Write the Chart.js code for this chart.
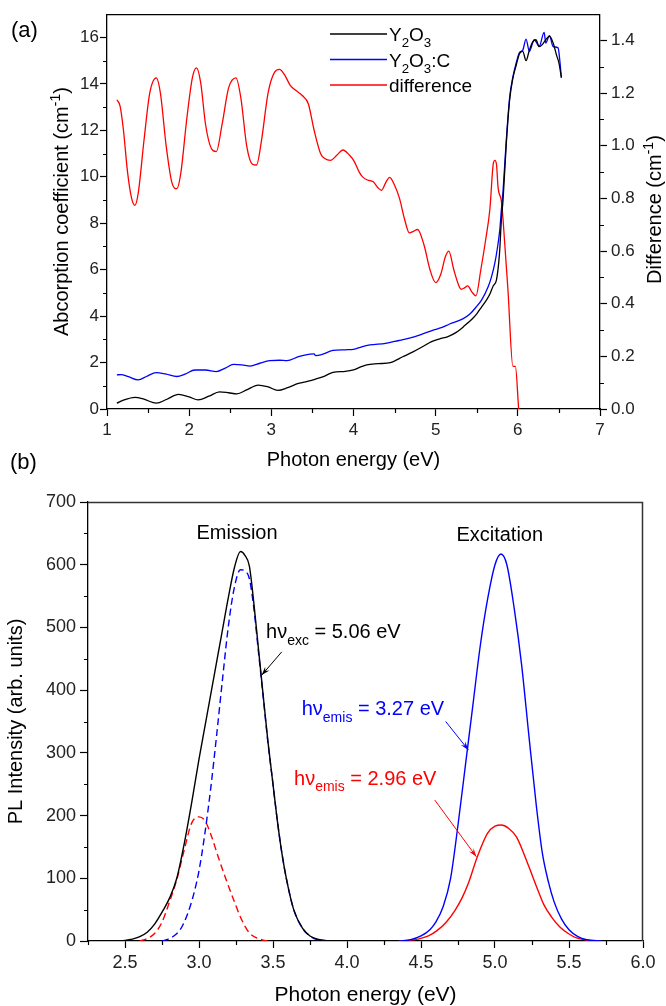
<!DOCTYPE html>
<html>
<head>
<meta charset="utf-8">
<script src="https://cdn.jsdelivr.net/npm/chart.js@4.4.1/dist/chart.umd.min.js"></script>
<style>
  html, body { margin: 0; padding: 0; background: #fff; }
  #wrap { position: relative; width: 666px; height: 1006px; }
  canvas { position: absolute; left: 0; }
  #absorption { top: 0; }
  #pl { top: 445px; }
</style>
</head>
<body>
<div id="wrap">
  <canvas id="absorption" width="666" height="480"></canvas>
  <canvas id="pl" width="666" height="561"></canvas>
</div>
<script>
// ---- (a) absorption spectra ----
var y2o3E = [1.12, 1.2, 1.34, 1.45, 1.6, 1.73, 1.87, 2.0, 2.11, 2.24, 2.37, 2.48, 2.58, 2.7, 2.84, 2.96, 3.08, 3.2, 3.33, 3.45,
  3.53, 3.65, 3.75, 3.9, 4.0, 4.08, 4.16, 4.3, 4.45, 4.6, 4.73, 4.85, 4.95, 5.05, 5.15, 5.25, 5.35, 5.45, 5.5, 5.56,
  5.62, 5.66, 5.7, 5.74, 5.777, 5.8, 5.82, 5.86, 5.9, 5.94, 5.98, 6.02, 6.06, 6.1, 6.14, 6.18, 6.22, 6.26, 6.3, 6.34,
  6.385, 6.43, 6.47, 6.5, 6.53];
var y2o3K = [0.25, 0.38, 0.5, 0.42, 0.25, 0.42, 0.63, 0.52, 0.39, 0.55, 0.74, 0.7, 0.65, 0.82, 1.03, 0.95, 0.8, 0.92, 1.1, 1.2,
  1.28, 1.42, 1.58, 1.62, 1.68, 1.8, 1.9, 1.95, 2.0, 2.25, 2.47, 2.7, 2.9, 3.02, 3.12, 3.3, 3.58, 3.9, 4.1, 4.4,
  4.7, 4.95, 5.3, 5.56, 6.7, 8.15, 9.0, 11.45, 13.3, 14.25, 14.8, 15.3, 15.4, 15.0, 15.45, 15.8, 15.9, 15.6, 15.7, 15.9,
  16.05, 15.76, 15.25, 14.9, 14.27];

var y2o3cE = [1.12, 1.17, 1.26, 1.38, 1.48, 1.6, 1.72, 1.85, 1.95, 2.07, 2.2, 2.33, 2.44, 2.54, 2.64, 2.74, 2.86, 2.98, 3.1, 3.19,
  3.33, 3.47, 3.52, 3.54, 3.6, 3.75, 3.9, 4.0, 4.1, 4.2, 4.39, 4.55, 4.68, 4.82, 4.97, 5.07, 5.17, 5.33, 5.42, 5.49,
  5.56, 5.64, 5.68, 5.72, 5.75, 5.78, 5.8, 5.82, 5.86, 5.9, 5.94, 5.98, 6.02, 6.06, 6.1, 6.14, 6.2, 6.26, 6.32, 6.34,
  6.385, 6.43, 6.49, 6.51, 6.53];
var y2o3cK = [1.47, 1.48, 1.39, 1.25, 1.4, 1.57, 1.5, 1.4, 1.5, 1.68, 1.68, 1.61, 1.76, 1.92, 1.9, 1.85, 1.97, 2.08, 2.1, 2.08,
  2.25, 2.36, 2.37, 2.3, 2.33, 2.52, 2.55, 2.57, 2.68, 2.76, 2.83, 2.95, 3.05, 3.2, 3.4, 3.5, 3.66, 3.88, 4.1, 4.38,
  4.7, 5.27, 5.7, 6.28, 6.9, 7.7, 8.6, 9.4, 11.6, 13.4, 14.3, 14.9, 15.35, 15.45, 15.93, 15.4, 15.9, 15.62, 16.22, 15.76,
  16.08, 15.6, 15.55, 15.04, 14.27];

var diffE = [1.12, 1.16, 1.2, 1.25, 1.3, 1.34, 1.38, 1.45, 1.52, 1.6, 1.65, 1.72, 1.79, 1.85, 1.9, 1.97, 2.04, 2.09, 2.14, 2.2,
  2.27, 2.33, 2.4, 2.48, 2.57, 2.63, 2.7, 2.77, 2.82, 2.88, 2.96, 3.04, 3.1, 3.16, 3.23, 3.3, 3.38, 3.45, 3.52, 3.6,
  3.65, 3.72, 3.8, 3.87, 3.95, 4.01, 4.07, 4.11, 4.17, 4.24, 4.3, 4.34, 4.4, 4.44, 4.5, 4.56, 4.62, 4.68, 4.73, 4.78,
  4.86, 4.93, 5.0, 5.06, 5.12, 5.16, 5.22, 5.28, 5.31, 5.35, 5.39, 5.44, 5.49, 5.55, 5.61, 5.66, 5.7, 5.72, 5.74, 5.76,
  5.8, 5.82, 5.88, 5.94, 5.97, 6.01];
var diffV = [1.175, 1.15, 1.06, 0.9, 0.8, 0.774, 0.82, 1.02, 1.2, 1.258, 1.2, 1.0, 0.86, 0.837, 0.9, 1.1, 1.26, 1.296, 1.24, 1.08,
  0.99, 0.978, 1.08, 1.22, 1.258, 1.18, 1.0, 0.93, 0.927, 1.02, 1.2, 1.28, 1.29, 1.27, 1.23, 1.21, 1.19, 1.16, 1.06, 0.97,
  0.952, 0.945, 0.965, 0.984, 0.965, 0.94, 0.9, 0.882, 0.87, 0.863, 0.84, 0.831, 0.865, 0.88, 0.85, 0.8, 0.723, 0.669, 0.675, 0.682,
  0.621, 0.53, 0.48, 0.51, 0.58, 0.6, 0.53, 0.47, 0.455, 0.46, 0.468, 0.445, 0.43, 0.53, 0.646, 0.76, 0.93, 0.945, 0.93, 0.84,
  0.79, 0.72, 0.45, 0.162, 0.162, 0];

var absTicksX = [1, 2, 3, 4, 5, 6, 7];
var absMinorX = [1.5, 2.5, 3.5, 4.5, 5.5, 6.5];
var absTicksY = [0, 2, 4, 6, 8, 10, 12, 14, 16];
var absMinorY = [1, 3, 5, 7, 9, 11, 13, 15];
var diffTicks = [0, 0.2, 0.4, 0.6, 0.8, 1.0, 1.2, 1.4];
var diffMinor = [0.1, 0.3, 0.5, 0.7, 0.9, 1.1, 1.3];

// ---- (b) PL emission / excitation ----
var emisE = [2.45, 2.5, 2.55, 2.6, 2.65, 2.7, 2.76, 2.8, 2.85, 2.9, 2.95, 3.0, 3.05, 3.1, 3.15, 3.2, 3.24, 3.28,
  3.31, 3.34, 3.37, 3.4, 3.43, 3.465, 3.5, 3.525, 3.56, 3.59, 3.64, 3.7, 3.75, 3.8, 3.85, 3.9];
var emisTotal = [0, 1, 3, 7, 14, 27, 50, 68, 100, 155, 220, 290, 355, 420, 485, 550, 596, 621,
  615, 598, 540, 470, 400, 320, 250, 200, 140, 100, 50, 20, 8, 3, 1, 0];

var emis327E = [2.75, 2.78, 2.83, 2.87, 2.9, 2.94, 2.97, 3.0, 3.04, 3.08, 3.12, 3.16, 3.2, 3.24, 3.28, 3.31, 3.34, 3.37, 3.4, 3.43,
  3.465, 3.5, 3.525, 3.56, 3.59, 3.64, 3.7, 3.75, 3.8, 3.85];
var emis327 = [0, 2, 8, 17, 30, 55, 80, 112, 172, 245, 330, 420, 505, 565, 592, 590, 578, 532, 465, 398,
  318, 250, 200, 140, 100, 50, 20, 8, 2, 0];

var emis296E = [2.6, 2.65, 2.7, 2.75, 2.8, 2.85, 2.9, 2.95, 3.0, 3.04, 3.08, 3.13, 3.18, 3.24, 3.29, 3.34, 3.39, 3.44, 3.47];
var emis296 = [0, 4, 12, 30, 62, 98, 145, 188, 198, 192, 170, 134, 100, 62, 33, 13, 5, 1, 0];

var excBlueE = [4.35, 4.43, 4.5, 4.56, 4.6, 4.65, 4.7, 4.75, 4.8, 4.85, 4.9, 4.95, 5.0, 5.04, 5.08, 5.13, 5.18, 5.23, 5.28, 5.32,
  5.36, 5.4, 5.45, 5.5, 5.56, 5.62, 5.72];
var excBlue = [0, 2, 8, 18, 30, 55, 100, 185, 280, 375, 470, 545, 600, 617, 600, 530, 440, 325, 214, 140,
  95, 62, 35, 18, 7, 2, 0];

var excRedE = [4.35, 4.42, 4.48, 4.55, 4.61, 4.67, 4.73, 4.78, 4.82, 4.88, 4.95, 5.0, 5.043, 5.09, 5.145, 5.22, 5.29, 5.33, 5.38, 5.44,
  5.495, 5.55, 5.61, 5.66];
var excRed = [0, 1, 3, 8, 17, 30, 49, 70, 92, 134, 172, 183, 185, 180, 166, 124, 81, 58, 39, 22,
  12, 5, 2, 0];

var plTicksX = [2.5, 3.0, 3.5, 4.0, 4.5, 5.0, 5.5, 6.0];
var plMinorX = [2.25, 2.75, 3.25, 3.75, 4.25, 4.75, 5.25, 5.75];
var plTicksY = [0, 100, 200, 300, 400, 500, 600, 700];
var plMinorY = [50, 150, 250, 350, 450, 550, 650];

var FONT = '"Liberation Sans", Arial, sans-serif';

function pts(xs, ys) {
  return xs.map(function (x, i) { return { x: x, y: ys[i] }; });
}

// parts: [[text, ''|'sub'|'sup'], ...]
function richText(ctx, parts, x, y, size, color, align) {
  ctx.save();
  ctx.fillStyle = color;
  ctx.textBaseline = 'alphabetic';
  ctx.textAlign = 'left';
  var widths = parts.map(function (p) {
    ctx.font = (p[1] ? size * 0.7 : size) + 'px ' + FONT;
    return ctx.measureText(p[0]).width;
  });
  var total = widths.reduce(function (a, b) { return a + b; }, 0);
  var cx = align === 'center' ? x - total / 2 : x;
  parts.forEach(function (p, i) {
    ctx.font = (p[1] ? size * 0.7 : size) + 'px ' + FONT;
    var dy = p[1] === 'sub' ? size * 0.33 : (p[1] === 'sup' ? -size * 0.4 : 0);
    ctx.fillText(p[0], cx, y + dy);
    cx += widths[i];
  });
  ctx.restore();
}

function rotatedText(ctx, parts, x, y, size) {
  ctx.save();
  ctx.translate(x, y);
  ctx.rotate(-Math.PI / 2);
  richText(ctx, parts, 0, 0, size, '#000', 'center');
  ctx.restore();
}

function drawMinor(ctx, scale, values, len, side) {
  ctx.save();
  ctx.strokeStyle = '#000';
  ctx.lineWidth = 1.2;
  ctx.beginPath();
  values.forEach(function (v) {
    var p = Math.round(scale.getPixelForValue(v)) + 0.5;
    if (side === 'bottom') { ctx.moveTo(p, scale.top); ctx.lineTo(p, scale.top + len); }
    if (side === 'left') { ctx.moveTo(scale.right, p); ctx.lineTo(scale.right - len, p); }
    if (side === 'right') { ctx.moveTo(scale.left, p); ctx.lineTo(scale.left + len, p); }
  });
  ctx.stroke();
  ctx.restore();
}

function axis(size, tickLen, pad, ticks, fmt) {
  return {
    type: 'linear',
    afterBuildTicks: function (s) { s.ticks = ticks.map(function (v) { return { value: v }; }); },
    grid: { drawOnChartArea: false, tickLength: tickLen, tickColor: '#000', tickWidth: 1.2 },
    border: { color: '#000', width: 1.3 },
    ticks: {
      color: '#222', font: { family: FONT, size: size }, padding: pad, autoSkip: false, maxRotation: 0,
      callback: function (v) { return fmt ? v.toFixed(fmt) : String(v); }
    }
  };
}

function withFit(cfg, extra, fit) {
  Object.keys(extra).forEach(function (k) { cfg[k] = extra[k]; });
  cfg.afterFit = fit;
  return cfg;
}

// ---- chart (a) ----
var legendRows = [
  { parts: [['Y', ''], ['2', 'sub'], ['O', ''], ['3', 'sub']], color: '#000000' },
  { parts: [['Y', ''], ['2', 'sub'], ['O', ''], ['3', 'sub'], [':C', '']], color: '#0000ff' },
  { parts: [['difference', '']], color: '#ff0000' }
];

var absDecor = {
  id: 'absDecor',
  afterDraw: function (chart) {
    var ctx = chart.ctx, a = chart.chartArea;
    ctx.save();
    ctx.strokeStyle = '#000';
    ctx.lineWidth = 1.3;
    ctx.beginPath();
    ctx.moveTo(a.left, a.top + 0.5);
    ctx.lineTo(a.right, a.top + 0.5);
    ctx.stroke();
    ctx.restore();
    drawMinor(ctx, chart.scales.x, absMinorX, 4, 'bottom');
    drawMinor(ctx, chart.scales.y, absMinorY, 4, 'left');
    drawMinor(ctx, chart.scales.y1, diffMinor, 4, 'right');

    legendRows.forEach(function (row, i) {
      var ly = 34 + i * 25.5;
      ctx.save();
      ctx.strokeStyle = row.color;
      ctx.lineWidth = 1.5;
      ctx.beginPath();
      ctx.moveTo(330, ly);
      ctx.lineTo(387, ly);
      ctx.stroke();
      ctx.restore();
      richText(ctx, row.parts, 389, ly + 7, 19, '#000', 'left');
    });

    richText(ctx, [['(a)', '']], 11, 37, 22, '#000', 'left');
    richText(ctx, [['Photon energy (eV)', '']], (a.left + a.right) / 2, 466, 20, '#000', 'center');
    rotatedText(ctx, [['Abcorption coefficient (cm', ''], ['-1', 'sup'], [')', '']], 68, (a.top + a.bottom) / 2, 20);
    rotatedText(ctx, [['Difference (cm', ''], ['-1', 'sup'], [')', '']], 661, (a.top + a.bottom) / 2 - 2, 20);
  }
};

new Chart(document.getElementById('absorption'), {
  type: 'line',
  data: {
    datasets: [
      { label: 'Y2O3', data: pts(y2o3E, y2o3K), borderColor: '#000000', yAxisID: 'y' },
      { label: 'Y2O3:C', data: pts(y2o3cE, y2o3cK), borderColor: '#0000ff', yAxisID: 'y' },
      { label: 'difference', data: pts(diffE, diffV), borderColor: '#ff0000', yAxisID: 'y1' }
    ]
  },
  options: {
    responsive: false,
    animation: false,
    elements: { point: { radius: 0 }, line: { borderWidth: 1.3, cubicInterpolationMode: 'monotone' } },
    layout: { padding: { top: 14, left: 0, right: 0, bottom: 0 } },
    plugins: { legend: { display: false }, tooltip: { enabled: false } },
    scales: {
      x: withFit(axis(17, 7, 4, absTicksX), { min: 1, max: 7 }, function (s) { s.height = 71; }),
      y: withFit(axis(17, 7, 1, absTicksY), { min: 0, max: 17, position: 'left' }, function (s) { s.width = 107; }),
      y1: withFit(axis(17, 7, 4, diffTicks, 1), { min: 0, max: 1.5, position: 'right' }, function (s) { s.width = 66; })
    }
  },
  plugins: [absDecor]
});

// ---- chart (b) ----
var plNotes = [
  { parts: [['Emission', '']], x: 3.257, y: 641, color: '#000000', align: 'center' },
  { parts: [['Excitation', '']], x: 5.032, y: 638, color: '#000000', align: 'center' },
  { parts: [['h\u03bd', ''], ['exc', 'sub'], [' = 5.06 eV', '']], x: 3.453, y: 483, color: '#000000', align: 'left' },
  { parts: [['h\u03bd', ''], ['emis', 'sub'], [' = 3.27 eV', '']], x: 3.694, y: 360, color: '#0000ff', align: 'left' },
  { parts: [['h\u03bd', ''], ['emis', 'sub'], [' = 2.96 eV', '']], x: 3.642, y: 249, color: '#ff0000', align: 'left' }
];
var plArrows = [
  { from: [3.559, 461], to: [3.424, 424], color: '#000000' },
  { from: [4.667, 350], to: [4.82, 304.6], color: '#0000ff' },
  { from: [4.593, 224.8], to: [4.874, 134.4], color: '#ff0000' }
];

var plDecor = {
  id: 'plDecor',
  afterDraw: function (chart) {
    var ctx = chart.ctx, a = chart.chartArea, sx = chart.scales.x, sy = chart.scales.y;
    ctx.save();
    ctx.strokeStyle = '#333';
    ctx.lineWidth = 1.5;
    ctx.beginPath();
    ctx.moveTo(a.left, a.top + 0.5);
    ctx.lineTo(a.right - 0.5, a.top + 0.5);
    ctx.lineTo(a.right - 0.5, a.bottom);
    ctx.stroke();
    ctx.restore();
    drawMinor(ctx, sx, plMinorX, 4, 'bottom');
    drawMinor(ctx, sy, plMinorY, 4, 'left');

    plNotes.forEach(function (n) {
      richText(ctx, n.parts, sx.getPixelForValue(n.x), sy.getPixelForValue(n.y), 20, n.color, n.align);
    });

    plArrows.forEach(function (ar) {
      var fx = sx.getPixelForValue(ar.from[0]), fy = sy.getPixelForValue(ar.from[1]);
      var tx = sx.getPixelForValue(ar.to[0]), ty = sy.getPixelForValue(ar.to[1]);
      var ang = Math.atan2(ty - fy, tx - fx), len = 9, spread = 0.32;
      ctx.save();
      ctx.strokeStyle = ar.color;
      ctx.fillStyle = ar.color;
      ctx.lineWidth = 1;
      ctx.beginPath();
      ctx.moveTo(fx, fy);
      ctx.lineTo(tx, ty);
      ctx.stroke();
      ctx.beginPath();
      ctx.moveTo(tx, ty);
      ctx.lineTo(tx - len * Math.cos(ang - spread), ty - len * Math.sin(ang - spread));
      ctx.lineTo(tx - len * 0.6 * Math.cos(ang), ty - len * 0.6 * Math.sin(ang));
      ctx.lineTo(tx - len * Math.cos(ang + spread), ty - len * Math.sin(ang + spread));
      ctx.closePath();
      ctx.fill();
      ctx.restore();
    });

    richText(ctx, [['(b)', '']], 10, 24, 22, '#000', 'left');
    richText(ctx, [['Photon energy (eV)', '']], (a.left + a.right) / 2, 556, 21, '#000', 'center');
    rotatedText(ctx, [['PL Intensity (arb. units)', '']], 22, (a.top + a.bottom) / 2, 20);
  }
};

new Chart(document.getElementById('pl'), {
  type: 'line',
  data: {
    datasets: [
      { label: 'Emission (total)', data: pts(emisE, emisTotal), borderColor: '#000000' },
      { label: 'Emission 3.27 eV', data: pts(emis327E, emis327), borderColor: '#0000ff', borderDash: [7, 4] },
      { label: 'Emission 2.96 eV', data: pts(emis296E, emis296), borderColor: '#ff0000', borderDash: [7, 4] },
      { label: 'Excitation 3.27 eV', data: pts(excBlueE, excBlue), borderColor: '#0000ff' },
      { label: 'Excitation 2.96 eV', data: pts(excRedE, excRed), borderColor: '#ff0000' }
    ]
  },
  options: {
    responsive: false,
    animation: false,
    elements: { point: { radius: 0 }, line: { borderWidth: 1.4, cubicInterpolationMode: 'monotone' } },
    layout: { padding: { top: 57, left: 0, right: 23, bottom: 0 } },
    plugins: { legend: { display: false }, tooltip: { enabled: false } },
    scales: {
      x: withFit(axis(18, 7, 4, plTicksX, 1), { min: 2.25, max: 6.0 }, function (s) { s.height = 65; }),
      y: withFit(axis(18, 8, 4, plTicksY), { min: 0, max: 700, position: 'left' }, function (s) { s.width = 88; })
    }
  },
  plugins: [plDecor]
});
</script>
</body>
</html>
